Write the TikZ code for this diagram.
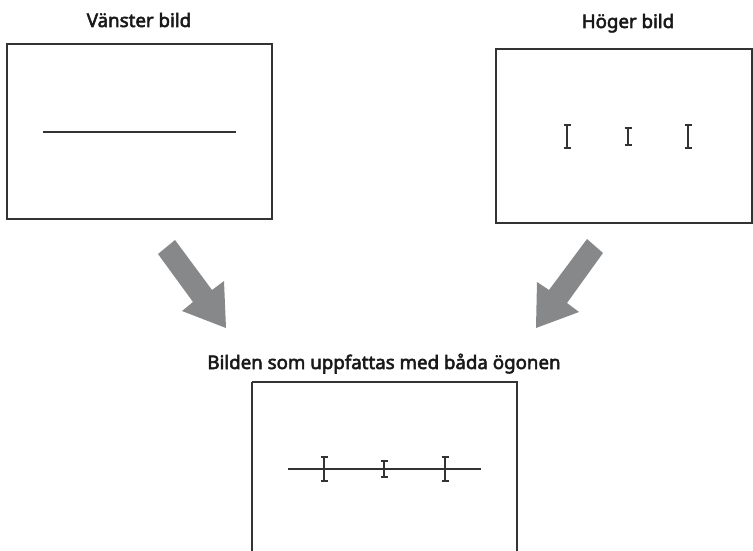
\documentclass[tikz,border=0pt]{standalone}
\usepackage{fontspec}
\newfontfamily\tf{Noto Sans}[FakeBold=2.8]
\begin{document}
\begin{tikzpicture}[x=1pt,y=-1pt,
  frame/.style={draw=black!80,line width=2pt},
  strokeline/.style={draw=black!80,line width=2pt},
  ibeam/.style={draw=black!80,line width=1.6pt},
  bigarrow/.style={fill=arrowgray,draw=none},
  title/.style={font=\tf\fontsize{18.7}{22}\selectfont,text=black!90,inner sep=0pt,anchor=base}]
\definecolor{arrowgray}{HTML}{87888A}
\useasboundingbox (0,0) rectangle (753,551);
\clip (0,0) rectangle (753,551);
% titles
\node[title] (tl) at (139,27) {Vänster bild};
\node[title] (tr) at (628,28) {Höger bild};
\node[title] (tb) at (384,369) {Bilden som uppfattas med båda ögonen};
% boxes
\draw[frame] (7,44) rectangle (272,219);
\draw[frame] (496,49) rectangle (752,223);
\draw[frame] (252,382) -- (252,560) (252,382) -- (517,382) -- (517,560);
% left line
\draw[strokeline] (43,132) -- (236,132);
% right I-beams
\foreach \x/\a/\b in {567/125/148, 628/128/145, 688/125/148}{
  \draw[ibeam] (\x,\a) -- (\x,\b) (\x-3.5,\a) -- (\x+3.5,\a) (\x-3.5,\b) -- (\x+3.5,\b);
}
% combined
\draw[strokeline] (288,469) -- (481,469);
\foreach \x/\a/\b in {324/457/481, 384/461/477, 445/457/481}{
  \draw[ibeam] (\x,\a) -- (\x,\b) (\x-3.5,\a) -- (\x+3.5,\a) (\x-3.5,\b) -- (\x+3.5,\b);
}
% arrows
\fill[bigarrow] (158,254) -- (175,240) -- (212,290) -- (224,281) -- (226,328) -- (182,311) -- (193,302) -- cycle;
\fill[bigarrow] (603,253) -- (587,239) -- (549,290) -- (537,282) -- (536,328) -- (579,312) -- (567,303) -- cycle;
\end{tikzpicture}
\end{document}
